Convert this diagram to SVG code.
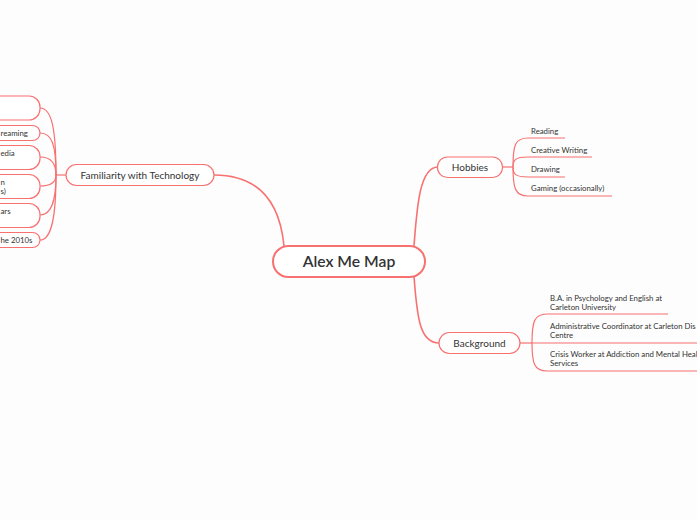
<svg xmlns="http://www.w3.org/2000/svg" width="697" height="520" viewBox="0 0 697 520">
<style>
.bg{fill:#fdfdfd}
.node{fill:#ffffff;stroke:#f87171;stroke-width:1.2}
.main{fill:#ffffff;stroke:#f87171;stroke-width:2}
.c{fill:none;stroke:#f87171;stroke-width:1.2}
.cm{fill:none;stroke:#f87171;stroke-width:1.6}
text{font-family:Lato,"Noto Sans",sans-serif;fill:#333333}
.t1{font-size:15.7px;font-weight:600}
.t2{font-size:10px}
.t3{font-size:7.8px}
</style>
<rect class="bg" x="0" y="0" width="697" height="520"/>
<g id="connectors">
<path class="cm" d="M284,246 C280,205 262,175 214,175"/>
<path class="cm" d="M414,246 C417,205 420,167 438,167"/>
<path class="cm" d="M414,276 C417,318 420,343 439,343"/>
<path class="c" d="M66,175 L56,175"/>
<path class="c" d="M56,175 C56,130 52,108 40,108"/>
<path class="c" d="M56,175 C56,145 52,133 40,133"/>
<path class="c" d="M56,175 C56,165 52,157 40,157"/>
<path class="c" d="M56,175 C56,182 52,186 40,186"/>
<path class="c" d="M56,175 C56,200 52,215 40,215"/>
<path class="c" d="M56,175 C56,215 52,240 40,240"/>
<path class="c" d="M502,167 L513,167"/>
<path class="c" d="M513,167 C513,145 515,138 528,138 L565,138"/>
<path class="c" d="M513,167 C513,160 515,157 528,157 L592,157"/>
<path class="c" d="M513,167 C513,174 515,177 528,177 L565,177"/>
<path class="c" d="M513,167 C513,188 515,196 528,196 L612,196"/>
<path class="c" d="M520,343 L532,343"/>
<path class="c" d="M532,343 C532,322 534,314 547,314 L668,314"/>
<path class="c" d="M532,343 L697,343"/>
<path class="c" d="M532,343 C532,363 534,371 547,371 L697,371"/>
</g>
<g id="central">
<rect class="main" x="273" y="246" width="152" height="31" rx="15.5"/>
<text class="t1" x="349" y="267" text-anchor="middle">Alex Me Map</text>
</g>
<g id="familiarity">
<rect class="node" x="66" y="164.5" width="148" height="21" rx="10.5"/>
<text class="t2" x="140" y="178.5" text-anchor="middle">Familiarity with Technology</text>
</g>
<g id="tech1"><rect class="node" x="-30" y="96" width="70" height="24" rx="11"/></g>
<g id="tech2"><rect class="node" x="-30" y="125.5" width="70" height="15" rx="7.5"/><text class="t3" x="0.5" y="135.8">reaming</text></g>
<g id="tech3"><rect class="node" x="-30" y="145.5" width="70" height="24" rx="11"/><text class="t3" x="0.5" y="155.8">edia</text></g>
<g id="tech4"><rect class="node" x="-30" y="174.5" width="70" height="24" rx="11"/><text class="t3" x="0.5" y="184.8">n</text><text class="t3" x="0.5" y="193.8">s)</text></g>
<g id="tech5"><rect class="node" x="-30" y="203.5" width="70" height="24" rx="11"/><text class="t3" x="0.5" y="213.8">ars</text></g>
<g id="tech6"><rect class="node" x="-30" y="232.5" width="70" height="15" rx="7.5"/><text class="t3" x="0.5" y="242.8">he 2010s</text></g>
<g id="hobbies">
<rect class="node" x="437.5" y="157" width="65" height="20.5" rx="10"/>
<text class="t2" x="470" y="170.8" text-anchor="middle">Hobbies</text>
</g>
<g id="reading"><text class="t3" x="531" y="134">Reading</text></g>
<g id="writing"><text class="t3" x="531" y="153">Creative Writing</text></g>
<g id="drawing"><text class="t3" x="531" y="172">Drawing</text></g>
<g id="gaming"><text class="t3" x="531" y="191">Gaming (occasionally)</text></g>
<g id="background">
<rect class="node" x="439" y="332.5" width="81" height="21" rx="10.5"/>
<text class="t2" x="479.5" y="346.8" text-anchor="middle">Background</text>
</g>
<g id="ba"><text class="t3" x="550" y="301">B.A. in Psychology and English at</text><text class="t3" x="550" y="310">Carleton University</text></g>
<g id="admin"><text class="t3" x="550" y="329">Administrative Coordinator at Carleton Dis</text><text class="t3" x="550" y="338">Centre</text></g>
<g id="crisis"><text class="t3" x="550" y="357">Crisis Worker at Addiction and Mental Heal</text><text class="t3" x="550" y="366">Services</text></g>
</svg>
